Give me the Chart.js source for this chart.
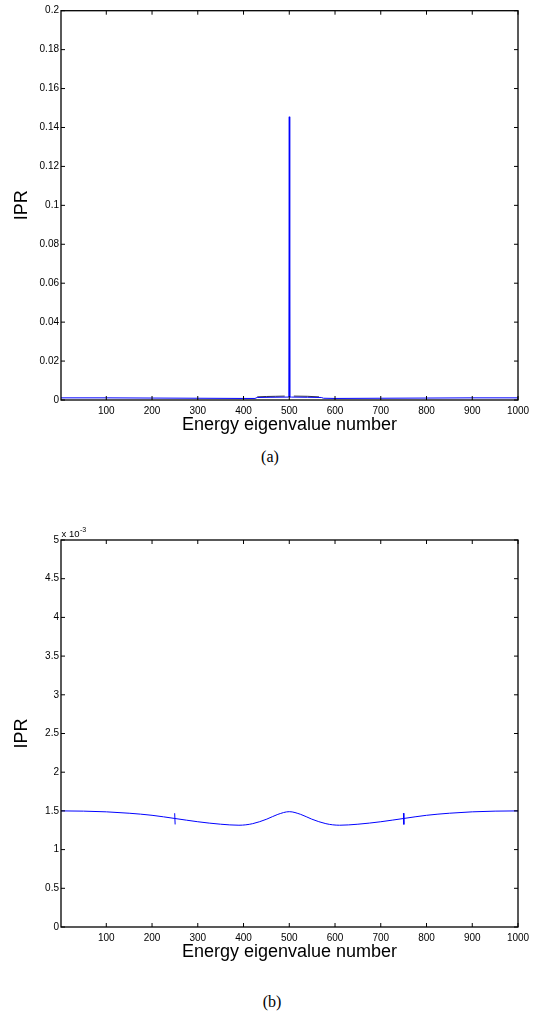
<!DOCTYPE html>
<html><head><meta charset="utf-8">
<script src="https://cdn.jsdelivr.net/npm/chart.js@4/dist/chart.umd.min.js"></script>
<style>
html,body{margin:0;padding:0;background:#fff;width:536px;height:1016px;overflow:hidden;position:relative}
canvas{position:absolute;left:0}
.cap{position:absolute;font-family:"Liberation Serif","Times New Roman",serif;font-size:16px;color:#000;width:536px;text-align:center;left:0}
</style></head><body>
<canvas id="ca" width="536" height="440" style="top:0px"></canvas>
<div class="cap" id="capA" style="top:448px;left:2px">(a)</div>
<canvas id="cb" width="536" height="467" style="top:500px"></canvas>
<div class="cap" id="capB" style="top:993px;left:4px">(b)</div>
<script>
// ---- data ----
const xTicks = [100,200,300,400,500,600,700,800,900,1000];
const yTicksA = [0,0.02,0.04,0.06,0.08,0.1,0.12,0.14,0.16,0.18,0.2];
const yTicksB = [0,0.5,1,1.5,2,2.5,3,3.5,4,4.5,5]; // in units of 1e-3

// (a) IPR vs eigenvalue number
const aBlueX = [1,100,200,300,400,425,430,460,495,499,500,501,505,540,570,575,600,700,800,900,1000];
const aBlueY = [0.0011,0.0011,0.0010,0.0009,0.0008,0.0008,0.0013,0.0014,0.0015,0.0015,0.1455,0.0015,0.0015,0.0014,0.0013,0.0009,0.0008,0.0009,0.0010,0.0011,0.0011];
const aBlackX = [430,450,470,490,495,505,510,540,565];
const aBlackY = [0.0016,0.0018,0.0019,0.0020,null,null,0.0020,0.0019,0.0016];

// (b) IPR (x 1e-3) vs eigenvalue number — smooth part
const bX = [1,50,100,150,200,250,300,350,390,420,451,475,500,525,549,580,610,650,700,750,800,850,900,950,1000];
const bY = [1.500,1.497,1.488,1.470,1.443,1.402,1.360,1.328,1.315,1.335,1.394,1.455,1.490,1.455,1.394,1.335,1.315,1.328,1.360,1.402,1.443,1.470,1.488,1.497,1.500];
// (b) short jumps at eigenvalues 250 and 750
const bJumpX  = [249.5,250.5,null,749.5,750.5];
const bJumpY  = [1.470,1.325,null,1.470,1.325];

const FONT = '"Liberation Sans", Arial, Helvetica, sans-serif';

const framePlugin = {
  id:'frame',
  afterDraw(chart){
    const {ctx, chartArea:{left,top,right,bottom}, scales:{x,y}} = chart;
    ctx.save();
    ctx.strokeStyle='#000'; ctx.lineWidth=1.3;
    ctx.strokeRect(left, top, right-left, bottom-top);
    ctx.beginPath();
    ctx.lineWidth=1;
    x.ticks.forEach(t=>{const p=x.getPixelForValue(t.value);
      ctx.moveTo(p,bottom); ctx.lineTo(p,bottom-4); ctx.moveTo(p,top); ctx.lineTo(p,top+4);});
    y.ticks.forEach(t=>{const p=y.getPixelForValue(t.value);
      ctx.moveTo(left,p); ctx.lineTo(left+4,p); ctx.moveTo(right,p); ctx.lineTo(right-4,p);});
    ctx.stroke();
    const ex = chart.options.plugins.frame && chart.options.plugins.frame.exponent;
    if (ex){
      ctx.fillStyle='#000'; ctx.textBaseline='alphabetic'; ctx.textAlign='left';
      ctx.font='9.5px '+FONT;
      ctx.fillText('x 10', left+0.5, top-3.5);
      const w = ctx.measureText('x 10').width;
      ctx.font='7px '+FONT;
      ctx.fillText(ex, left+0.5+w+0.5, top-8.5);
    }
    ctx.restore();
  }
};

function toPts(xs, ys){ return xs.map((v,i)=>({x:v, y:ys[i]})); }

function makeChart(id, datasets, yTicks, yMax, fmt, padTop, exponent){
  return new Chart(document.getElementById(id), {
    type:'line',
    data:{datasets},
    options:{
      responsive:false, animation:false, devicePixelRatio:1,
      layout:{padding:{left:0,right:18,top:padTop,bottom:0}},
      plugins:{legend:{display:false}, tooltip:{enabled:false}, frame:{exponent}},
      elements:{point:{radius:0}},
      scales:{
        x:{type:'linear', min:1, max:1000,
          afterBuildTicks(s){ s.ticks = xTicks.map(v=>({value:v})); },
          afterFit(s){ s.height = 40; },
          grid:{display:false, drawTicks:false}, border:{display:false},
          ticks:{color:'#000', font:{family:FONT, size:10}, padding:5, maxRotation:0, autoSkip:false,
            callback:v=>String(v)},
          title:{display:true, text:'Energy eigenvalue number', color:'#000',
            font:{family:FONT, size:18}, padding:{top:0,bottom:4}}
        },
        y:{type:'linear', min:0, max:yMax,
          afterBuildTicks(s){ s.ticks = yTicks.map(v=>({value:v})); },
          afterFit(s){ s.width = 61; },
          grid:{display:false, drawTicks:false}, border:{display:false},
          ticks:{color:'#000', font:{family:FONT, size:10}, padding:2, autoSkip:false,
            callback:fmt},
          title:{display:true, text:'IPR', color:'#000',
            font:{family:FONT, size:18}, padding:{top:11,bottom:0}}
        }
      }
    },
    plugins:[framePlugin]
  });
}

makeChart('ca', [
  {data:toPts(aBlueX,aBlueY), borderColor:'#0000ff', borderWidth:1, tension:0, spanGaps:false},
  {data:toPts(aBlackX,aBlackY), borderColor:'#000000', borderWidth:0.8, tension:0, spanGaps:false}
], yTicksA, 0.2, v=>String(parseFloat(Number(v).toFixed(2))), 10.7, null);

makeChart('cb', [
  {data:toPts(bX,bY), borderColor:'#0000ff', borderWidth:1, cubicInterpolationMode:'monotone'},
  {data:toPts(bJumpX,bJumpY), borderColor:'#0000ff', borderWidth:1, tension:0, spanGaps:false}
], yTicksB, 5, v=>String(parseFloat(Number(v).toFixed(1))), 40, '-3');
</script>
</body></html>
